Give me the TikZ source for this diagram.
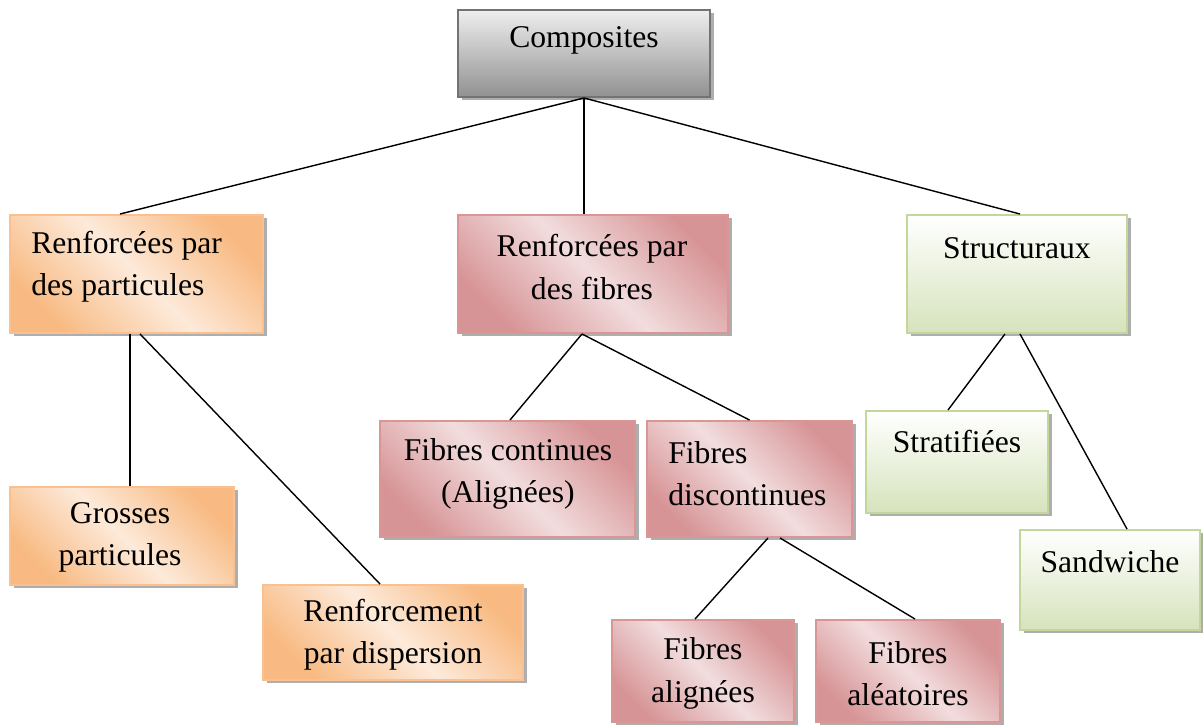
\documentclass[tikz,border=0pt]{standalone}
\usepackage{fontspec}
\setmainfont{Liberation Serif}
\usetikzlibrary{shadows}
\definecolor{orangeline}{RGB}{250,192,143}
\definecolor{orangedark}{RGB}{248,186,130}
\definecolor{orangelight}{RGB}{253,234,218}
\definecolor{pinkline}{RGB}{218,150,148}
\definecolor{pinkdark}{RGB}{215,148,150}
\definecolor{pinklight}{RGB}{242,221,222}
\definecolor{greenline}{RGB}{195,214,155}
\definecolor{greendark}{RGB}{214,227,188}
\definecolor{greylight}{RGB}{238,238,238}
\definecolor{greydark}{RGB}{145,145,145}
\begin{document}
\begin{tikzpicture}[
  box/.style={rectangle, line width=1.1pt, drop shadow={shadow xshift=0.07cm, shadow yshift=-0.07cm, fill=black!70, opacity=0.45}},
  greybox/.style={box, draw=black!55, top color=greylight, bottom color=greydark},
  orangebox/.style={box, draw=orangeline, top color=orangedark, bottom color=orangedark, middle color=orangelight, shading angle=-45},
  pinkbox/.style={box, draw=pinkline, top color=pinkdark, bottom color=pinkdark, middle color=pinklight, shading angle=-45},
  greenbox/.style={box, draw=greenline, top color=white, bottom color=greendark},
  txt/.style={font=\fontsize{18}{24}\selectfont, align=center, inner sep=0pt},
  link/.style={draw=black, line width=0.8pt}]
\useasboundingbox (0,0) rectangle (24.06,-14.5);
% boxes
\node[greybox, minimum width=5.04cm, minimum height=1.74cm] (comp) at (11.68,-1.07) {};
\node[orangebox, minimum width=5.06cm, minimum height=2.36cm] (part) at (2.73,-5.48) {};
\node[pinkbox, minimum width=5.40cm, minimum height=2.36cm] (fib) at (11.86,-5.48) {};
\node[greenbox, minimum width=4.40cm, minimum height=2.36cm] (struct) at (20.34,-5.48) {};
\node[orangebox, minimum width=4.48cm, minimum height=1.96cm] (gros) at (2.44,-10.72) {};
\node[orangebox, minimum width=5.20cm, minimum height=1.90cm] (disp) at (7.86,-12.65) {};
\node[pinkbox, minimum width=5.10cm, minimum height=2.32cm] (cont) at (10.15,-9.58) {};
\node[pinkbox, minimum width=4.10cm, minimum height=2.32cm] (disc) at (14.99,-9.58) {};
\node[greenbox, minimum width=3.64cm, minimum height=2.04cm] (strat) at (19.14,-9.24) {};
\node[greenbox, minimum width=3.60cm, minimum height=2.00cm] (sand) at (22.20,-11.60) {};
\node[pinkbox, minimum width=3.64cm, minimum height=2.04cm] (al) at (14.06,-13.42) {};
\node[pinkbox, minimum width=3.68cm, minimum height=2.04cm] (alea) at (18.16,-13.42) {};
% texts
\node[txt] (comp-t) at (11.68,-0.80) {Composites};
\node[txt, anchor=west, align=left] (part-t) at (0.62,-5.33) {Renforcées par\\des particules};
\node[txt] (fib-t) at (11.84,-5.34) {Renforcées par\\des fibres};
\node[txt] (struct-t) at (20.34,-4.96) {Structuraux};
\node[txt] (gros-t) at (2.40,-10.75) {Grosses\\particules};
\node[txt] (disp-t) at (7.86,-12.70) {Renforcement\\par dispersion};
\node[txt] (cont-t) at (10.16,-9.48) {Fibres continues\\(Alignées)};
\node[txt, anchor=west, align=left] (disc-t) at (13.36,-9.48) {Fibres\\discontinues};
\node[txt] (strat-t) at (19.14,-8.84) {Stratifiées};
\node[txt] (sand-t) at (22.20,-11.24) {Sandwiche};
\node[txt] (al-t) at (14.06,-13.47) {Fibres\\alignées};
\node[txt] (alea-t) at (18.16,-13.47) {Fibres\\aléatoires};
% links
\draw[link] (comp.south) -- ([xshift=-0.33cm]part.north);
\draw[link] (comp.south) -- (comp.south |- fib.north);
\draw[link] (comp.south) -- ([xshift=0.06cm]struct.north);
\draw[link] ([xshift=-0.13cm]part.south) -- ([xshift=-0.13cm]part.south |- gros.north);
\draw[link] ([xshift=0.07cm]part.south) -- ([xshift=-0.26cm]disp.north);
\draw[link] ([xshift=-0.22cm]fib.south) -- ([xshift=0.05cm]cont.north);
\draw[link] ([xshift=-0.22cm]fib.south) -- (disc.north);
\draw[link] ([xshift=-0.24cm]struct.south) -- ([xshift=-0.18cm]strat.north);
\draw[link] ([xshift=0.06cm]struct.south) -- ([xshift=0.34cm]sand.north);
\draw[link] ([xshift=0.37cm]disc.south) -- ([xshift=-0.16cm]al.north);
\draw[link] ([xshift=0.61cm]disc.south) -- ([xshift=0.14cm]alea.north);
\end{tikzpicture}
\end{document}
